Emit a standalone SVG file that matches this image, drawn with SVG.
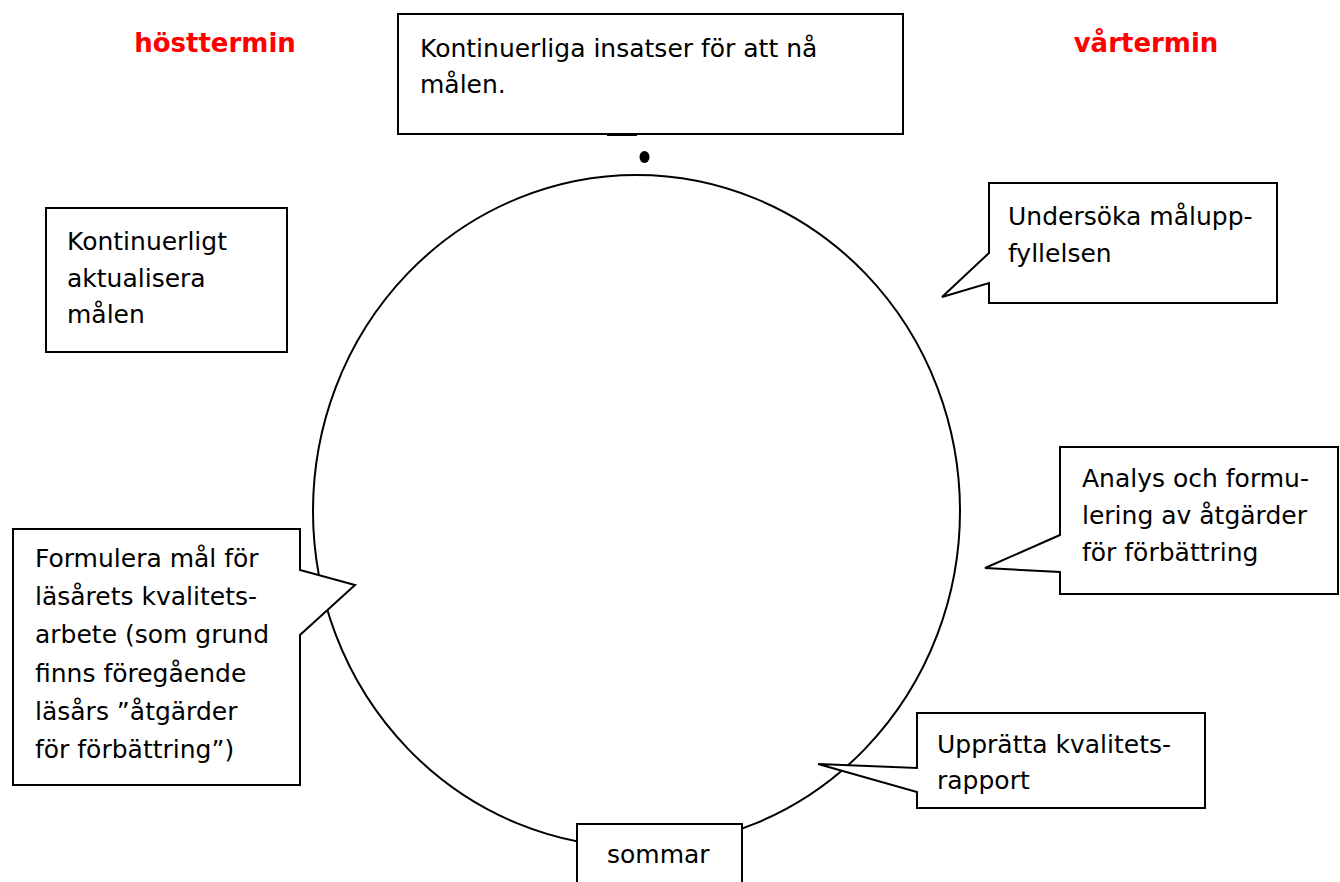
<svg xmlns="http://www.w3.org/2000/svg" width="1340" height="882" viewBox="0 0 1340 882">
<style>
.box{fill:#fff;stroke:#000;stroke-width:2;stroke-linejoin:miter}
.t{font-family:"DejaVu Sans","Liberation Sans",sans-serif;font-size:25px;fill:#000}
.term{font-family:"DejaVu Sans","Liberation Sans",sans-serif;font-size:26px;font-weight:bold;fill:#ff0000;text-anchor:middle}
</style>
<rect width="1340" height="882" fill="#fff"/>
<g id="connectors">
<ellipse id="cycle" cx="636.5" cy="511" rx="323.5" ry="336" fill="none" stroke="#000" stroke-width="2"/>
<ellipse id="start-dot" cx="644.5" cy="157" rx="5" ry="6" fill="#000"/>
</g>
<g id="label-host"><text class="term" x="215" y="52">hösttermin</text></g>
<g id="label-var"><text class="term" x="1146" y="52">vårtermin</text></g>
<g id="node-insatser">
<rect class="box" x="398" y="14" width="505" height="120"/>
<line x1="607" y1="134.5" x2="637" y2="134.5" stroke="#000" stroke-width="3"/>
<text class="t" x="420" y="57">Kontinuerliga insatser för att nå</text>
<text class="t" x="420" y="93">målen.</text>
</g>
<g id="node-aktualisera">
<rect class="box" x="46" y="208" width="241" height="144"/>
<text class="t" x="67" y="250">Kontinuerligt</text>
<text class="t" x="67" y="287">aktualisera</text>
<text class="t" x="67" y="323">målen</text>
</g>
<g id="node-undersoka">
<path class="box" d="M989,183 H1277 V303 H989 V283 L942,297 L989,253 Z"/>
<text class="t" x="1008" y="225">Undersöka målupp-</text>
<text class="t" x="1008" y="262">fyllelsen</text>
</g>
<g id="node-analys">
<path class="box" d="M1060,447 H1338 V594 H1060 V572 L985,568 L1060,535 Z"/>
<text class="t" x="1082" y="487">Analys och formu-</text>
<text class="t" x="1082" y="524">lering av åtgärder</text>
<text class="t" x="1082" y="561">för förbättring</text>
</g>
<g id="node-formulera">
<path class="box" d="M13,529 H300 V570 L355,585 L300,635 V785 H13 Z"/>
<text class="t" x="35" y="567">Formulera mål för</text>
<text class="t" x="35" y="605">läsårets kvalitets-</text>
<text class="t" x="35" y="643">arbete (som grund</text>
<text class="t" x="35" y="682">finns föregående</text>
<text class="t" x="35" y="720">läsårs ”åtgärder</text>
<text class="t" x="35" y="758">för förbättring”)</text>
</g>
<g id="node-upprätta">
<path class="box" d="M917,713 H1205 V808 H917 V792 L818,764 L917,768 Z"/>
<text class="t" x="937" y="753">Upprätta kvalitets-</text>
<text class="t" x="937" y="789">rapport</text>
</g>
<g id="node-sommar">
<rect class="box" x="577" y="824" width="165" height="70"/>
<text class="t" x="607" y="863">sommar</text>
</g>
</svg>
